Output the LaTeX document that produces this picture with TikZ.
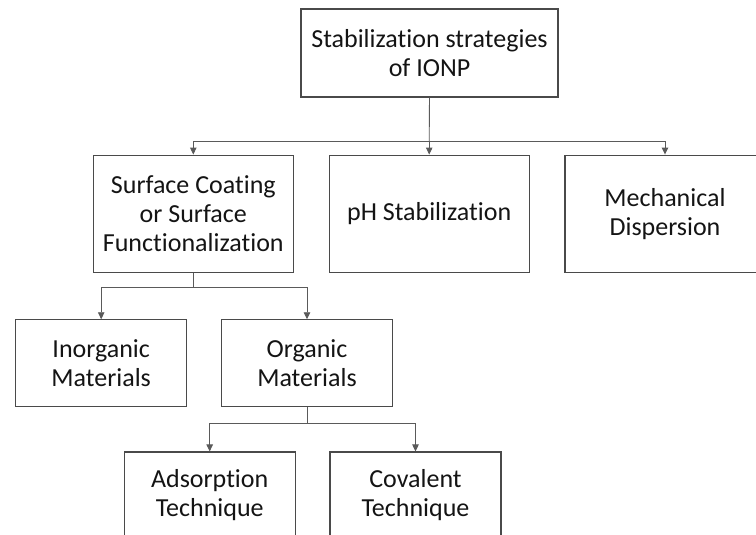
\documentclass[tikz,border=0pt]{standalone}
\usepackage{fontspec}
\setmainfont{Carlito}[Ligatures={NoCommon}]
\usetikzlibrary{arrows.meta}
\definecolor{boxline}{HTML}{4A4A4A}
\definecolor{conn}{HTML}{5A5A5A}
\definecolor{txt}{HTML}{141414}
\tikzset{
  stratbox/.style={draw=boxline, line width=1.1pt, inner sep=0pt, align=center,
    text=txt, font=\fontsize{26}{29}\selectfont},
  wide/.style={stratbox, minimum width=200pt, minimum height=117pt},
  small/.style={stratbox, minimum width=171pt, minimum height=87pt},
  conline/.style={draw=conn, line width=0.9pt},
  arr/.style={conline, -{Triangle[width=6.5pt,length=7pt]}}
}
\begin{document}
\begin{tikzpicture}[x=1pt,y=-1pt]
\useasboundingbox (0,0) rectangle (756,535);
\node[stratbox, minimum width=257pt, minimum height=88pt] (top) at (429.5,53) {Stabilization strategies\\of IONP};
\node[wide] (surf) at (193.3,213.6) {Surface Coating\\or Surface\\Functionalization};
\node[wide] (ph) at (429.2,213.6) {pH Stabilization};
\node[wide] (mech) at (665,213.6) {Mechanical\\Dispersion};
\node[small] (inorg) at (101.2,363.3) {Inorganic\\Materials};
\node[small] (org) at (307,363.3) {Organic\\Materials};
\node[small] (ads) at (209.7,495.5) {Adsorption\\Technique};
\node[small] (cov) at (415.5,495.5) {Covalent\\Technique};
\coordinate (j1) at (429.2,141);
\coordinate (j2) at (193.3,287);
\coordinate (j3) at (307,423);
\draw[conline] (top.south) -- (j1);
\draw[arr] (j1) -| (surf.north);
\draw[arr] (j1) -- (ph.north);
\draw[arr] (j1) -| (mech.north);
\draw[conline] (surf.south) -- (j2);
\draw[arr] (j2) -| (inorg.north);
\draw[arr] (j2) -| (org.north);
\draw[conline] (org.south) -- (j3);
\draw[arr] (j3) -| (ads.north);
\draw[arr] (j3) -| (cov.north);
\end{tikzpicture}
\end{document}
